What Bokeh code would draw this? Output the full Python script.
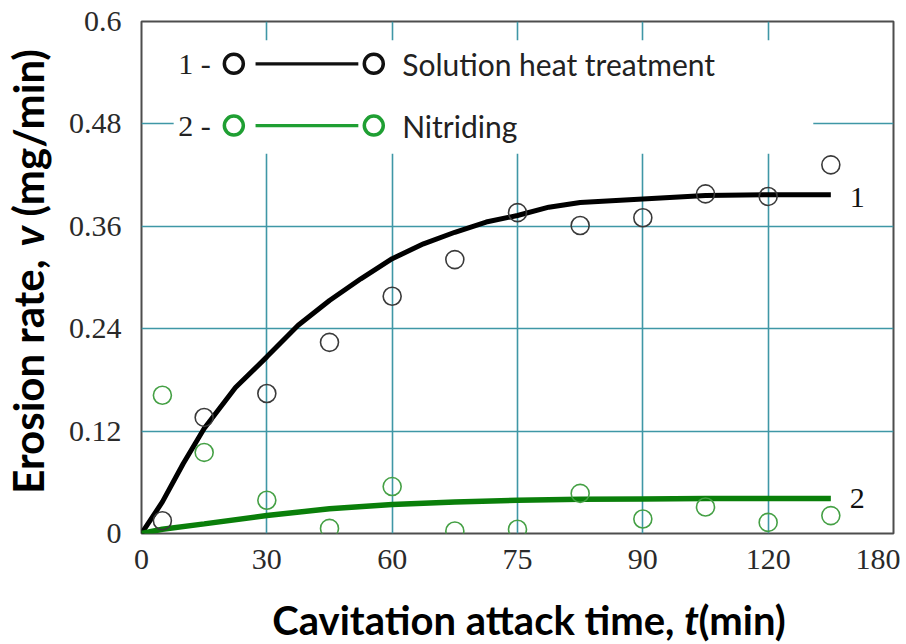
import math
from bokeh.plotting import figure
from bokeh.layouts import row, column
from bokeh.models import Range1d, FixedTicker, Label
from bokeh.embed import file_html
from bokeh.resources import INLINE

# ---------------- data ----------------
t_points = [5, 15, 30, 45, 60, 75, 90, 105, 120, 135, 150, 165]
v_solution = [0.015, 0.136, 0.164, 0.224, 0.278, 0.321, 0.376, 0.361, 0.370, 0.398, 0.395, 0.432]
v_nitriding = [0.162, 0.095, 0.039, 0.006, 0.055, 0.003, 0.005, 0.047, 0.017, 0.031, 0.013, 0.021]

t_curve_solution = [0, 5, 10, 15, 22.5, 30, 37.5, 45, 52.5, 60, 67.5, 75, 82.5, 90, 97.5, 105, 120, 135, 150, 165]
v_curve_solution = [0, 0.037, 0.082, 0.123, 0.171, 0.207, 0.244, 0.273, 0.2985, 0.322, 0.3395, 0.353,
                    0.365, 0.3727, 0.3824, 0.388, 0.392, 0.396, 0.397, 0.397]
t_curve_nitriding = [0, 5, 15, 30, 45, 60, 75, 90, 105, 120, 135, 150, 165]
v_curve_nitriding = [0, 0.005, 0.0113, 0.021, 0.029, 0.034, 0.037, 0.039, 0.040, 0.0405, 0.041, 0.041, 0.041]

x_tick_values = [0, 30, 60, 90, 120, 150, 180]
x_tick_labels = ["0", "30", "60", "75", "90", "120", "180"]
y_tick_values = [0, 0.12, 0.24, 0.36, 0.48, 0.6]
y_tick_labels = ["0", "0.12", "0.24", "0.36", "0.48", "0.6"]

series_names = ["Solution heat treatment", "Nitriding"]
series_numbers = ["1", "2"]
x_title = ["Cavitation attack time, ", "t", "(min)"]
y_title = ["Erosion rate, ", "v", "(mg/min)"]

# ---------------- styles / layout ----------------
GRID = "#3f97a6"
BLACK = "#000000"
GREEN_LINE = "#0a7f0a"
GREEN_MARK = "#45a045"
SERIF = "Liberation Serif"
SANS = "Lato"

TOTAL_W, TOTAL_H = 900, 644
LEFT_W = 60                      # strip holding the y title
FRAME_L, FRAME_T = 141, 21       # page position of plot frame
FRAME_W, FRAME_H = 752, 512
MAIN_W = TOTAL_W - LEFT_W
MAIN_H = FRAME_T + FRAME_H + 50
BOT_H = TOTAL_H - MAIN_H
X0, X1, Y0, Y1 = 0, 180, 0, 0.6
PX_PER_V = FRAME_H / (Y1 - Y0)

p = figure(width=MAIN_W, height=MAIN_H, output_backend="svg", toolbar_location=None,
           x_range=Range1d(X0, X1), y_range=Range1d(Y0, Y1),
           min_border_left=FRAME_L - LEFT_W, min_border_right=MAIN_W - (FRAME_L - LEFT_W) - FRAME_W,
           min_border_top=FRAME_T, min_border_bottom=MAIN_H - FRAME_T - FRAME_H)
p.background_fill_color = "white"
p.border_fill_color = "white"
p.outline_line_color = "#4d4d4d"
p.outline_line_width = 2

for ax in (p.xaxis, p.yaxis):
    ax.axis_line_color = None
    ax.major_tick_line_color = None
    ax.minor_tick_line_color = None
    ax.major_label_text_font = SERIF
    ax.major_label_text_font_size = "30px"
    ax.major_label_text_color = "#2a2a2a"

p.xaxis.ticker = FixedTicker(ticks=x_tick_values)
p.xaxis.major_label_overrides = {v: s for v, s in zip(x_tick_values, x_tick_labels)}
p.xaxis.major_label_standoff = 10
p.yaxis.ticker = FixedTicker(ticks=y_tick_values)
p.yaxis.major_label_overrides = {v: s for v, s in zip(y_tick_values, y_tick_labels)}
p.yaxis.major_label_standoff = 14

p.xgrid.ticker = FixedTicker(ticks=x_tick_values)
p.ygrid.ticker = FixedTicker(ticks=y_tick_values)
for g in (p.xgrid, p.ygrid):
    g.grid_line_color = GRID
    g.grid_line_width = 1.6

# legend background box (hides grid)
p.quad(left=[7.7], right=[160.8], bottom=[0.445], top=[0.578],
       fill_color="white", line_color=None)

# fitted curves
p.line(t_curve_solution, v_curve_solution, line_color=BLACK, line_width=5)
p.line(t_curve_nitriding, v_curve_nitriding, line_color=GREEN_LINE, line_width=5.5)

# measured points
p.scatter(t_points, v_solution, marker="circle", size=18, fill_color=None,
          line_color="#3a3a3a", line_width=1.6)
p.scatter(t_points, v_nitriding, marker="circle", size=18, fill_color=None,
          line_color=GREEN_MARK, line_width=1.6)

# curve end labels
p.add_layout(Label(x=169.5, y=v_curve_solution[-1] - 0.003, text=series_numbers[0], text_font=SERIF,
                   text_font_size="30px", text_baseline="middle", text_color="#111111"))
p.add_layout(Label(x=169.5, y=v_curve_nitriding[-1], text=series_numbers[1], text_font=SERIF,
                   text_font_size="30px", text_baseline="middle", text_color="#111111"))

# legend
leg_rows = [(0.5504, "#111111", "#111111", 3.2), (0.478, "#1f9f33", "#1f9f33", 3.2)]
for (ly, mcol, lcol, lw), num, name in zip(leg_rows, series_numbers, series_names):
    p.add_layout(Label(x=8.8, y=ly, text=num + " -", text_font=SERIF, text_font_size="30px",
                       text_baseline="middle", text_color="#222222"))
    p.line([27.3, 51.9], [ly, ly], line_color=lcol, line_width=lw)
    p.scatter([22.1, 55.6], [ly, ly], marker="circle", size=19, fill_color=None,
              line_color=mcol, line_width=3.5)
    p.add_layout(Label(x=62.4, y=ly, text=name, text_font=SANS, text_font_size="30px",
                       text_baseline="middle", text_color="#222222"))

styles = ["bold", "bold italic", "bold"]
aligns = ["right", "left", "left"]

# ---------- bottom strip: x title ----------
fx = figure(width=MAIN_W, height=BOT_H, output_backend="svg", toolbar_location=None, title=None,
            x_range=p.x_range, y_range=Range1d(0, BOT_H),
            min_border_left=FRAME_L - LEFT_W, min_border_right=MAIN_W - (FRAME_L - LEFT_W) - FRAME_W,
            min_border_top=0, min_border_bottom=0)
fx.axis.visible = False
fx.grid.visible = False
fx.outline_line_color = None
XT_MID = TOTAL_H - 619           # vertical centre of the title (px above strip bottom)
xt_pos = [129.9, 129.9, 133.3]
for txt, st, xp, al in zip(x_title, styles, xt_pos, aligns):
    fx.add_layout(Label(x=xp, y=XT_MID, text=txt, text_font=SANS, text_font_style=st,
                        text_font_size="40px", text_align=al, text_baseline="middle",
                        text_color="black"))

# ---------- left strip: y title ----------
fy = figure(width=LEFT_W, height=TOTAL_H, output_backend="svg", toolbar_location=None, title=None,
            x_range=Range1d(0, LEFT_W),
            y_range=Range1d(Y0 - (TOTAL_H - FRAME_T - FRAME_H) / PX_PER_V, Y1 + FRAME_T / PX_PER_V),
            min_border_left=0, min_border_right=0, min_border_top=0, min_border_bottom=0)
fy.axis.visible = False
fy.grid.visible = False
fy.outline_line_color = None
YT_MID = 27
yt_pos = [0.3330, 0.3363, 0.3715]
for txt, st, yp, al in zip(y_title, styles, yt_pos, aligns):
    fy.add_layout(Label(x=YT_MID, y=yp, text=txt, angle=math.pi / 2, text_font=SANS,
                        text_font_style=st, text_font_size="42px", text_align=al,
                        text_baseline="middle", text_color="black"))

layout = row(fy, column(p, fx))
open("out.html", "w").write(file_html(layout, INLINE))
